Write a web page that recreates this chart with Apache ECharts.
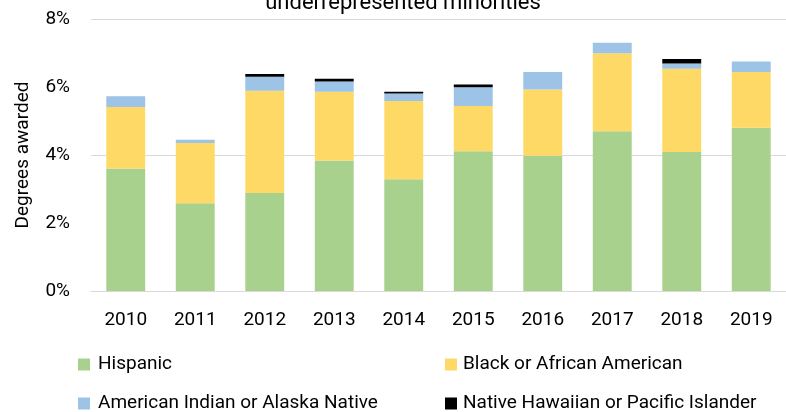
<!DOCTYPE html>
<html>
<head>
<meta charset="utf-8">
<script src="https://cdn.jsdelivr.net/npm/echarts@6/dist/echarts.min.js"></script>
<style>html,body{margin:0;padding:0;background:#fff;}#c{width:786px;height:412px;}</style>
</head>
<body>
<div id="c"></div>
<script>
const years = ['2010','2011','2012','2013','2014','2015','2016','2017','2018','2019'];
const hispanic = [3.60, 2.58, 2.88, 3.84, 3.29, 4.11, 3.98, 4.70, 4.09, 4.80];
const black    = [1.81, 1.77, 3.01, 2.02, 2.30, 1.33, 1.95, 2.29, 2.45, 1.64];
const aian     = [0.32, 0.10, 0.41, 0.30, 0.22, 0.55, 0.51, 0.31, 0.15, 0.31];
const nhpi     = [0.00, 0.00, 0.08, 0.08, 0.05, 0.08, 0.00, 0.00, 0.13, 0.00];
const yTicks = [0, 2, 4, 6, 8];
const titleText = 'underrepresented minorities';

const FONT = 'Roboto';
const chart = echarts.init(document.getElementById('c'), null, {renderer: 'canvas'});
const barW = '56%';
function bar(name, data, color) {
  return { name, type: 'bar', stack: 'total', data, barWidth: barW,
    itemStyle: { color }, emphasis: { disabled: true } };
}
chart.setOption({
  animation: false,
  backgroundColor: '#ffffff',
  title: { text: titleText, left: 403, textAlign: 'center', top: -8, padding: 0,
    textStyle: { fontFamily: FONT, fontSize: 22, fontWeight: 'normal', color: '#000' } },
  grid: { left: 91, right: 0, top: 19, bottom: 121, containLabel: false },
  legend: [
    { orient: 'vertical', left: 78, top: 355, height: 120, width: 340, padding: 0, itemWidth: 12, itemHeight: 12, itemGap: 20,
      icon: 'rect', data: ['Hispanic', 'American Indian or Alaska Native'],
      textStyle: { fontFamily: FONT, fontSize: 19, color: '#000', padding: [0,0,0,3] } },
    { orient: 'vertical', left: 445, top: 355, height: 120, width: 340, padding: 0, itemWidth: 12, itemHeight: 12, itemGap: 20,
      icon: 'rect', data: ['Black or African American', 'Native Hawaiian or Pacific Islander'],
      textStyle: { fontFamily: FONT, fontSize: 19, color: '#000', padding: [0,0,0,1] } }
  ],
  xAxis: { type: 'category', data: years,
    axisLine: { show: true, lineStyle: { color: '#d9d9d9', width: 1 } },
    axisTick: { show: false },
    axisLabel: { fontFamily: FONT, fontSize: 19, color: '#000', margin: 20 } },
  yAxis: [
    { type: 'value', min: yTicks[0], max: yTicks[yTicks.length-1], interval: 2,
      name: 'Degrees awarded', nameLocation: 'middle', nameGap: 58, nameRotate: 90,
      nameTextStyle: { fontFamily: FONT, fontSize: 19, color: '#000' },
      axisLine: { show: false }, axisTick: { show: false }, splitLine: { show: false },
      axisLabel: { fontFamily: FONT, fontSize: 19, color: '#000', margin: 21, formatter: '{value}%' } },
    { type: 'value', min: 0, max: 8, interval: 4, position: 'left',
      axisLine: { show: false }, axisTick: { show: false }, axisLabel: { show: false },
      splitLine: { show: true, lineStyle: { color: '#d9d9d9', width: 1 } } }
  ],
  series: [
    bar('Hispanic', hispanic, '#A9D18E'),
    bar('Black or African American', black, '#FFD966'),
    bar('American Indian or Alaska Native', aian, '#9DC3E6'),
    bar('Native Hawaiian or Pacific Islander', nhpi, '#000000')
  ]
});
</script>
</body>
</html>
